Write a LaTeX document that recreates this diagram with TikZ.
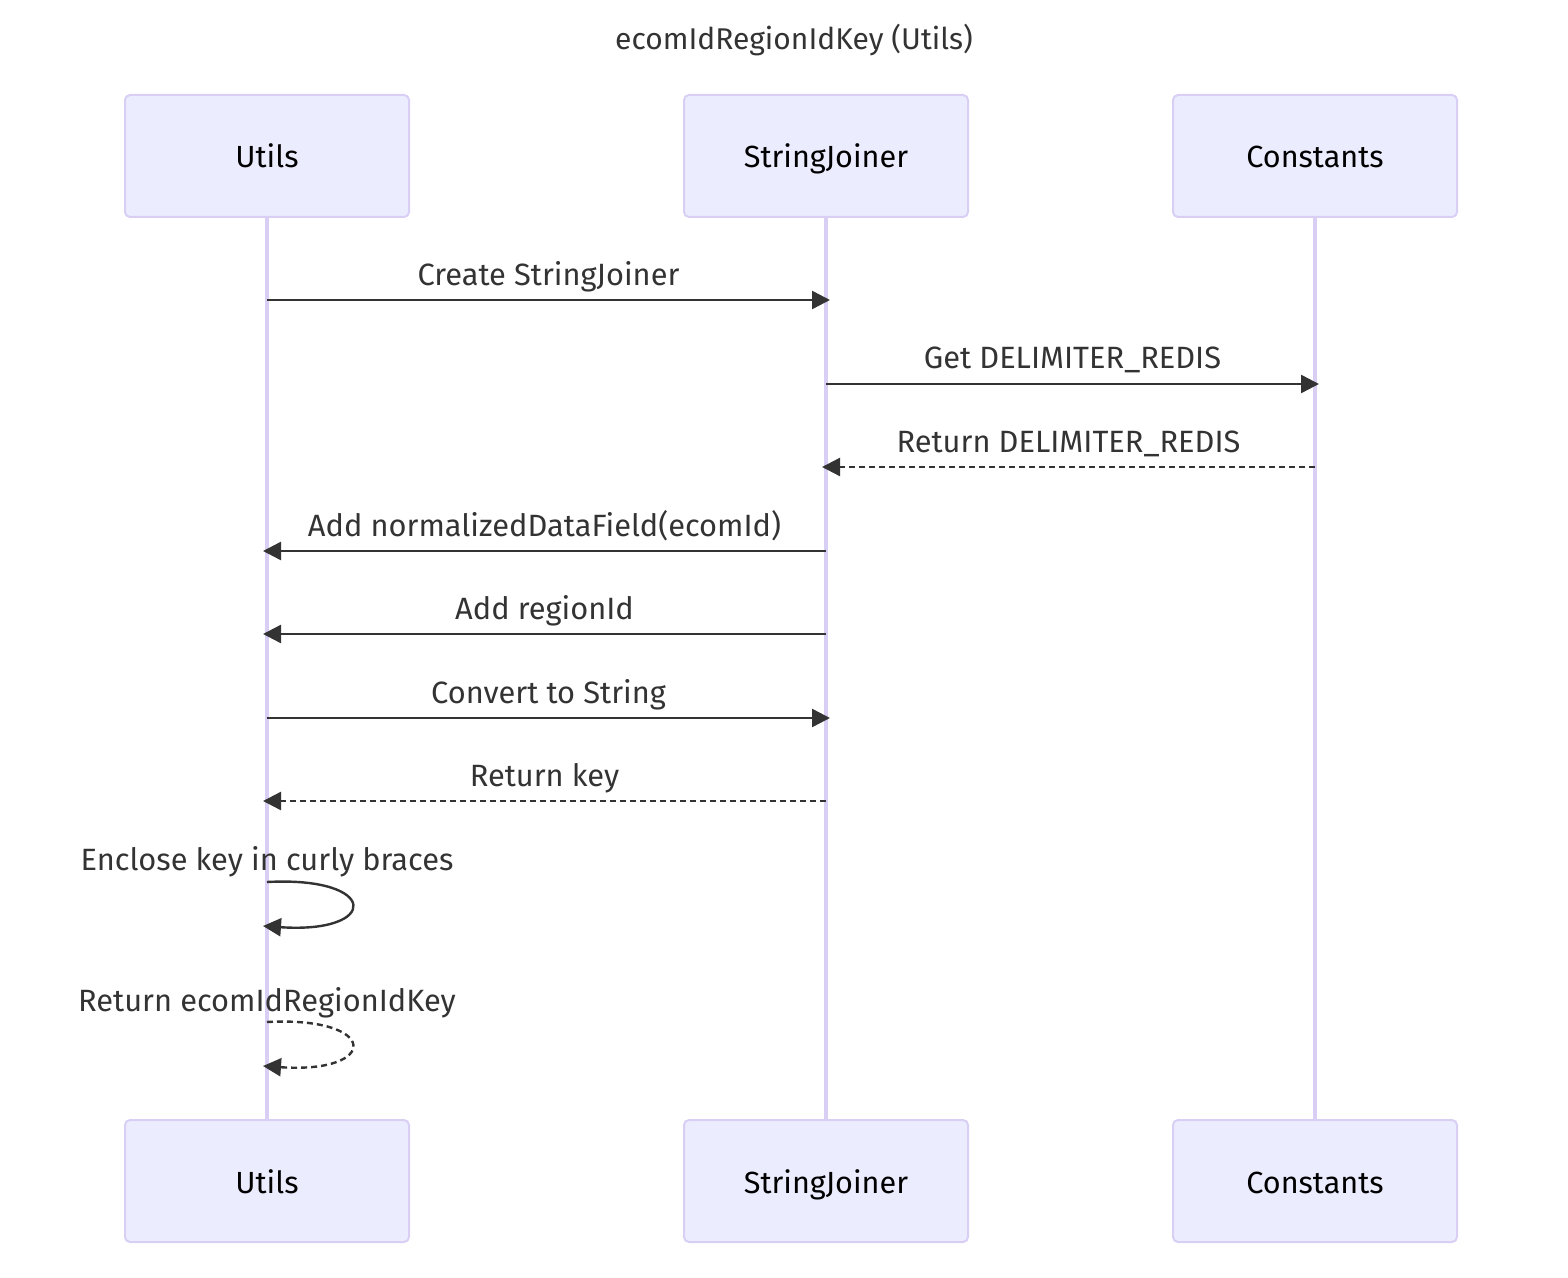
\documentclass[tikz,border=0pt]{standalone}
\usepackage{fontspec}
\setmainfont{Fira Sans}
\usetikzlibrary{arrows.meta}
\definecolor{actfill}{HTML}{ECECFF}
\definecolor{actline}{HTML}{D9CFF5}
\definecolor{msgc}{HTML}{333333}
\begin{document}
\begin{tikzpicture}
		[x=0.5pt,y=-0.5pt,
		actor/.style={draw=actline,line width=1pt,fill=actfill,rounded corners=2.5pt,minimum width=142pt,minimum height=61pt,text height=13pt,text depth=1pt,font=\fontsize{15.3}{17}\selectfont},
		life/.style={draw=actline,line width=1.6pt},
		msg/.style={draw=msgc,line width=1.2pt,-{Triangle[length=9pt,width=9pt]}},
		ret/.style={msg,dash pattern=on 3pt off 2pt},
		lbl/.style={text=msgc,text height=13pt,text depth=1pt,font=\fontsize{15.4}{17}\selectfont}]

		\useasboundingbox (0,0) rectangle (1568,1278);

		\node[text=msgc,text height=13pt,text depth=1pt,font=\fontsize{15}{17}\selectfont] (title) at (794,38) {ecomIdRegionIdKey (Utils)};

		% lifelines
		\draw[life] (267,217) -- (267,1120);
		\draw[life] (826,217) -- (826,1120);
		\draw[life] (1315,217) -- (1315,1120);

		\node[actor] (utilsT) at (267,156) {Utils};
		\node[actor] (joinerT) at (826,156) {StringJoiner};
		\node[actor] (constT) at (1315,156) {Constants};

		\node[actor] (utilsB) at (267,1181) {Utils};
		\node[actor] (joinerB) at (826,1181) {StringJoiner};
		\node[actor] (constB) at (1315,1181) {Constants};

		% message points
		\coordinate (u1) at (267,300); \coordinate (j1) at (830,300);
		\coordinate (j2) at (826,384); \coordinate (c2) at (1319,384);
		\coordinate (c3) at (1315,467); \coordinate (j3) at (822,467);
		\coordinate (j4) at (826,551); \coordinate (u4) at (263,551);
		\coordinate (j5) at (826,634); \coordinate (u5) at (263,634);
		\coordinate (u6) at (267,718); \coordinate (j6) at (830,718);
		\coordinate (j7) at (826,801); \coordinate (u7) at (263,801);
		\coordinate (u8a) at (267,882); \coordinate (u8b) at (263,926);
		\coordinate (u9a) at (267,1022); \coordinate (u9b) at (263,1066);

		\draw[msg] (u1) -- node[lbl,yshift=13pt] {Create StringJoiner} (j1);
		\draw[msg] (j2) -- node[lbl,yshift=13.5pt] {Get DELIMITER\_REDIS} (c2);
		\draw[ret] (c3) -- node[lbl,yshift=13.5pt] {Return DELIMITER\_REDIS} (j3);
		\draw[msg] (j4) -- node[lbl,yshift=13.5pt] {Add normalizedDataField(ecomId)} (u4);
		\draw[msg] (j5) -- node[lbl,yshift=13.5pt] {Add regionId} (u5);
		\draw[msg] (u6) -- node[lbl,yshift=13.5pt] {Convert to String} (j6);
		\draw[ret] (j7) -- node[lbl,yshift=13.5pt] {Return key} (u7);

		% self messages
		\node[lbl] (self8) at (267,858) {Enclose key in curly braces};
		\draw[msg] (u8a) .. controls (380,876) and (380,934) .. (u8b);
		\node[lbl] (self9) at (267,999) {Return ecomIdRegionIdKey};
		\draw[ret] (u9a) .. controls (380,1016) and (380,1074) .. (u9b);

	\end{tikzpicture}
\end{document}
